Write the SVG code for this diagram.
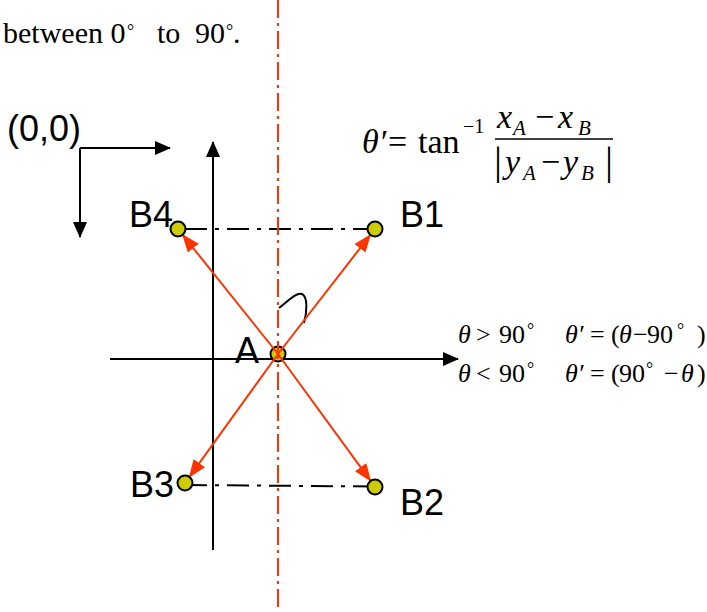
<svg xmlns="http://www.w3.org/2000/svg" width="707" height="612" viewBox="0 0 707 612">
<defs>
<style>
.serif{font-family:"Liberation Serif","Times New Roman",serif;fill:#000}
.it{font-style:italic}
.lbl{font-family:"Liberation Sans",Arial,sans-serif;font-size:36px;fill:#000}
.axis{stroke:#000;stroke-width:2;fill:none}
.dd{stroke:#000;stroke-width:2;fill:none;stroke-dasharray:22 8 4 8}
.red{stroke:#FF3300;stroke-width:2;fill:none}
.node{fill:#CCCC00;stroke:#000;stroke-width:2}
</style>
<marker id="ab" markerUnits="userSpaceOnUse" markerWidth="16" markerHeight="14" refX="15" refY="7" orient="auto">
<path d="M0,0 L16,7 L0,14 z" fill="#000"/>
</marker>
<marker id="ar" markerUnits="userSpaceOnUse" markerWidth="18" markerHeight="14" refX="17" refY="7" orient="auto">
<path d="M0,0 L18,7 L0,14 z" fill="#FF3300"/>
</marker>
</defs>
<rect width="707" height="612" fill="#fff"/>

<text class="serif" font-size="30" y="43"><tspan x="3">between 0</tspan><tspan x="127" font-size="18" y="37">°</tspan><tspan x="157" y="43">to</tspan><tspan x="195">90</tspan><tspan x="226" font-size="18" y="37">°</tspan><tspan x="233" y="43">.</tspan></text>

<g id="connectors">
<path class="axis" d="M80,148 H170" marker-end="url(#ab)"/>
<path class="axis" d="M80,148 V237" marker-end="url(#ab)"/>
<path class="axis" d="M213,550 V142" marker-end="url(#ab)"/>
<path class="axis" d="M110,359 H458" marker-end="url(#ab)"/>
<path class="dd" d="M185,229 H375"/>
<path class="dd" d="M185,485 L375,486.5"/>
<path d="M279,308 C289,300 297,292 302,294 C308,297 307,312 304,323" fill="none" stroke="#000" stroke-width="2"/>
</g>

<g id="A">
<circle class="node" cx="278" cy="354" r="7.5"/>
<text class="lbl" x="235" y="363">A</text>
</g>

<line x1="278" y1="0" x2="278" y2="612" stroke="#FF3300" stroke-width="2" stroke-dasharray="18 5 3 5"/>

<g id="arrows">
<line class="red" x1="278" y1="354" x2="370.4" y2="234.9" marker-end="url(#ar)"/>
<line class="red" x1="278" y1="354" x2="182.7" y2="234.9" marker-end="url(#ar)"/>
<line class="red" x1="278" y1="354" x2="189.4" y2="476.9" marker-end="url(#ar)"/>
<line class="red" x1="278" y1="354" x2="370.6" y2="480.9" marker-end="url(#ar)"/>
</g>

<g id="B1">
<circle class="node" cx="375" cy="229" r="7.5"/>
<text class="lbl" x="400" y="227">B1</text>
</g>
<g id="B4">
<circle class="node" cx="178" cy="229" r="7.5"/>
<text class="lbl" x="129" y="227">B4</text>
</g>
<g id="B3">
<circle class="node" cx="185" cy="483" r="7.5"/>
<text class="lbl" x="130" y="497">B3</text>
</g>
<g id="B2">
<circle class="node" cx="375" cy="487" r="7.5"/>
<text class="lbl" x="400" y="515">B2</text>
</g>
<g id="origin">
<text class="lbl" x="7" y="141">(0,0)</text>
</g>

<g id="formula">
<text class="serif" font-size="34" y="153"><tspan class="it" x="362">θ′</tspan><tspan x="388">=</tspan><tspan x="418">tan</tspan></text>
<text class="serif" font-size="20" x="463" y="133">−1</text>
<text class="serif" font-size="34" y="128"><tspan class="it" x="497">x</tspan><tspan class="it" font-size="21" x="513" y="135">A</tspan><tspan x="535" y="128">−</tspan><tspan class="it" x="558">x</tspan><tspan class="it" font-size="21" x="578" y="135">B</tspan></text>
<line x1="495" y1="139" x2="613" y2="139" stroke="#000" stroke-width="1.5"/>
<text class="serif" font-size="40" x="494" y="174">|</text>
<text class="serif" font-size="40" x="605" y="174">|</text>
<text class="serif" font-size="34" y="173"><tspan class="it" x="505">y</tspan><tspan class="it" font-size="21" x="523" y="180">A</tspan><tspan x="541" y="173">−</tspan><tspan class="it" x="563">y</tspan><tspan class="it" font-size="21" x="581" y="180">B</tspan></text>
</g>

<g id="conditions">
<text class="serif" font-size="26" y="343"><tspan class="it" x="458">θ</tspan><tspan x="476">&gt;</tspan><tspan x="499">90</tspan><tspan x="527" font-size="18" y="336">°</tspan><tspan class="it" x="565" y="343">θ′</tspan><tspan x="590">=</tspan><tspan x="611">(</tspan><tspan class="it" x="619">θ</tspan><tspan x="633">−</tspan><tspan x="647">90</tspan><tspan x="677" font-size="18" y="336">°</tspan><tspan x="697" y="343">)</tspan></text>
<text class="serif" font-size="26" y="382"><tspan class="it" x="458">θ</tspan><tspan x="476">&lt;</tspan><tspan x="499">90</tspan><tspan x="527" font-size="18" y="375">°</tspan><tspan class="it" x="565" y="382">θ′</tspan><tspan x="590">=</tspan><tspan x="611">(</tspan><tspan x="619">90</tspan><tspan x="646" font-size="18" y="375">°</tspan><tspan x="664" y="382">−</tspan><tspan class="it" x="681">θ</tspan><tspan x="697">)</tspan></text>
</g>
</svg>
